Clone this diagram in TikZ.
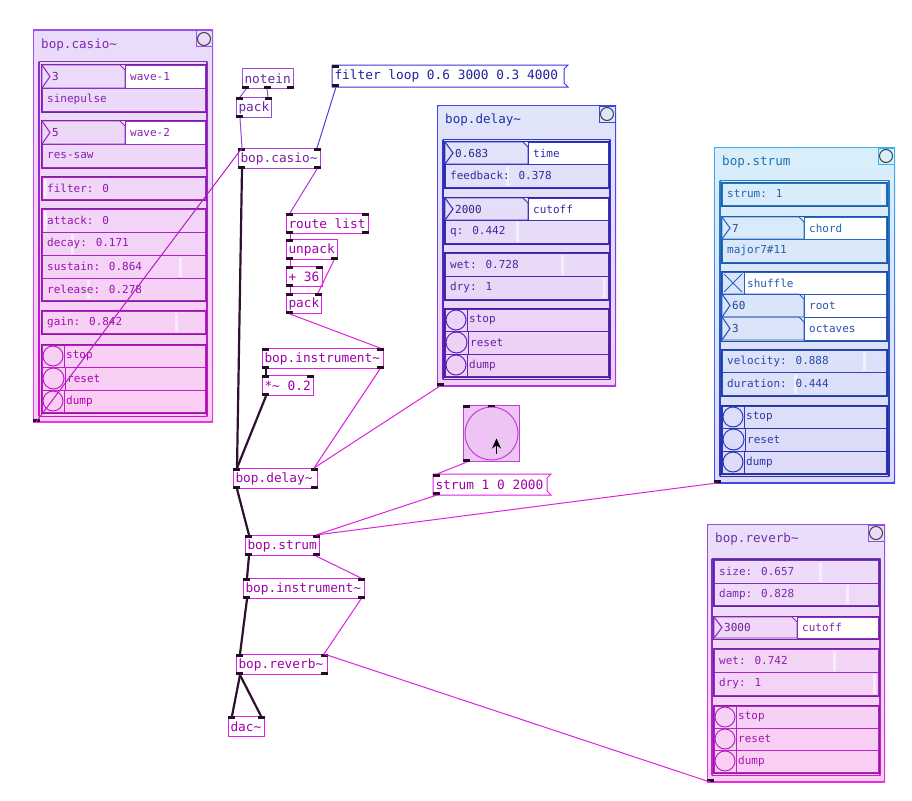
\documentclass[tikz,border=0pt]{standalone}
\usepackage{fontspec}
\newfontfamily\pdmono{DejaVu Sans Mono}
\usetikzlibrary{calc,arrows.meta}
\newcommand\objfont{\pdmono\fontsize{12.8}{14}\selectfont}
\newcommand\rowfont{\pdmono\fontsize{11}{13}\selectfont}
\newcommand\ttlfont{\pdmono\fontsize{12.6}{14}\selectfont}
\newcount\wid
\definecolor{opur}{HTML}{A048E0}\definecolor{tpur}{HTML}{6A28A8}
\definecolor{oblu}{HTML}{3838E0}\definecolor{tblu}{HTML}{2020A0}
\definecolor{ocas}{HTML}{B040E0}\definecolor{tcas}{HTML}{7A20B0}
\definecolor{omag}{HTML}{E020E8}\definecolor{tmag}{HTML}{A000A8}
\definecolor{obng}{HTML}{C040D8}\definecolor{fbng}{HTML}{EEC4F4}
\definecolor{iocol}{HTML}{201020}
\definecolor{c1}{HTML}{9848D8}\definecolor{cblu}{HTML}{5040E0}
\definecolor{cpur}{HTML}{B038E0}\definecolor{cmag}{HTML}{E020E0}
\definecolor{ccas}{HTML}{B818C8}
\definecolor{sigcol}{HTML}{301030}
\newcommand\rowcol[1]{\pgfmathtruncatemacro\pct{(\PB-#1)/(\PB-\PT)*100}\colorlet{rb}{bdtop!\pct!bdbot}\colorlet{rt}{ttop!\pct!tbot}}
\newcommand\grp[4]{\rowcol{#2}\draw[rb!80!black,line width=1pt] (#1,#2) rectangle (#3,#4);}
\newcommand\gframe[4]{%
 \shade[top color=bdtop,bottom color=bdbot] ({#1-0.5},#2) rectangle ({#1+0.5},#4);
 \shade[top color=bdtop,bottom color=bdbot] ({#3-0.5},#2) rectangle ({#3+0.5},#4);
 \fill[bdtop] (#1,{#2-0.5}) rectangle (#3,{#2+0.5});
 \fill[bdbot] (#1,{#4-0.5}) rectangle (#3,{#4+0.5});}
\newcommand\slrow[6]{\rowcol{#2}%
 \fill[white,opacity=.55] ({#1+2+#6*(#3-#1-7)},{#2+1.5}) rectangle ++(3,{#4-#2-3});
 \draw[rb,line width=.9pt] (#1,#2) rectangle (#3,#4);
 \global\advance\wid by 1
 \node[rowtxt,text=rt] (w\the\wid) at ({#1+5},{(#2+#4)/2}) {#5};}
\newcommand\txrow[5]{\rowcol{#2}%
 \draw[rb,line width=.9pt] (#1,#2) rectangle (#3,#4);
 \global\advance\wid by 1
 \node[rowtxt,text=rt] (w\the\wid) at ({#1+5},{(#2+#4)/2}) {#5};}
\newcommand\numrow[7]{\rowcol{#2}%
 \fill[white] (#3,#2) rectangle (#4,#5);
 \draw[rb,line width=.9pt] (#3,#2) rectangle (#4,#5);
 \draw[rb,line width=.9pt] (#1,#2) -- ({#3-5},#2) -- (#3,{#2+5}) -- (#3,#5) -- (#1,#5) -- cycle;
 \draw[rb,line width=1.1pt] (#1,#2) -- ({#1+8},{(#2+#5)/2}) -- (#1,#5);
 \global\advance\wid by 1
 \node[rowtxt,text=rt!85!black] (w\the\wid) at ({#1+10},{(#2+#5)/2}) {#6};
 \global\advance\wid by 1
 \node[rowtxt,text=rt] (w\the\wid) at ({#3+5},{(#2+#5)/2}) {#7};}
\newcommand\bngrow[5]{\rowcol{#2}%
 \draw[rb,line width=.9pt] (#1,#2) rectangle (#3,#4);
 \draw[rb,line width=.9pt] (#1,#2) rectangle ({#1+#4-#2},#4);
 \draw[rb,line width=1pt] ({#1+(#4-#2)/2},{(#2+#4)/2}) circle[radius={((#4-#2)/2-1)*1pt}];
 \global\advance\wid by 1
 \node[rowtxt,text=rt] (w\the\wid) at ({#1+#4-#2+2},{(#2+#4)/2}) {#5};}
\newcommand\tglrow[5]{\rowcol{#2}%
 \fill[white] ({#1+#4-#2},#2) rectangle (#3,#4);
 \draw[rb,line width=.9pt] (#1,#2) rectangle (#3,#4);
 \draw[rb,line width=.9pt] ({#1+#4-#2},#2) -- ({#1+#4-#2},#4);
 \draw[rb,line width=1pt] ({#1+2},{#2+2}) -- ({#1+#4-#2-2},{#4-2}) ({#1+2},{#4-2}) -- ({#1+#4-#2-2},{#2+2});
 \global\advance\wid by 1
 \node[rowtxt,text=rt] (w\the\wid) at ({#1+#4-#2+3},{(#2+#4)/2}) {#5};}
\newcommand\panel[6]{%
 \def\PT{#3}\def\PB{#5}%
 \shade[top color=btop,bottom color=bbot] (#2,#3) rectangle (#4,#5);
 \shade[top color=ftop,bottom color=fbot] ({#2+1.4},{#3+1.4}) rectangle ({#4-1.4},{#5-1.4});
 \node[ptitle,text=ttop] (#1title) at ({#2+8},{#3+15}) {#6};
 \draw[btop,line width=1pt] ({#4-17},{#3+1}) rectangle ({#4-1},{#3+17});
 \draw[black!75,line width=1pt] ({#4-9},{#3+9}) circle[radius=6.5pt];
 \fill[iocol] (#2,#5) rectangle ++(7,-3);
 \coordinate (#1out) at ({#2+3},#5);}
\newcommand\inl[1]{\fill[iocol] (#1.north west) rectangle ++(7,3);}
\newcommand\inr[1]{\fill[iocol] (#1.north east) rectangle ++(-7,3);}
\newcommand\outl[1]{\fill[iocol] (#1.south west) rectangle ++(7,-3);}
\newcommand\outr[1]{\fill[iocol] (#1.south east) rectangle ++(-7,-3);}
\begin{document}
\begin{tikzpicture}[x=1pt,y=-1pt,
 pdo/.style={draw, line width=1pt, anchor=north west, inner xsep=2pt, inner ysep=0pt, minimum height=20pt, align=flush left, font=\objfont},
 pdm/.style={pdo, draw=none},
 objpur/.style={draw=opur,text=tpur},
 objcas/.style={draw=ocas,text=tcas},
 objmag/.style={draw=omag,text=tmag},
 rowtxt/.style={anchor=west, inner sep=0pt, font=\rowfont},
 ptitle/.style={anchor=west, inner sep=0pt, font=\ttlfont},
 ctl/.style={line width=1pt},
 sig/.style={line width=2.2pt, draw=sigcol},
]
\useasboundingbox (0,0) rectangle (912,800);
\fill[white] (0,0) rectangle (912,800);

% ---------- casio panel
\definecolor{btop}{HTML}{A050E8}\definecolor{bbot}{HTML}{E838E4}
\definecolor{ftop}{HTML}{E9DCFA}\definecolor{fbot}{HTML}{FBCDF3}
\definecolor{bdtop}{HTML}{8A30C8}\definecolor{bdbot}{HTML}{C818C8}
\definecolor{ttop}{HTML}{7A2AB0}\definecolor{tbot}{HTML}{B000B0}
\panel{cas}{33}{30}{213}{422}{bop.casio\textasciitilde}
\gframe{39}{62}{207}{416}
\grp{41}{64}{206}{112}
\numrow{42}{65}{125}{205}{88}{3}{wave-1}
\txrow{42}{88}{205}{111}{sinepulse}
\grp{41}{120}{206}{168}
\numrow{42}{121}{125}{205}{144}{5}{wave-2}
\txrow{42}{144}{205}{167}{res-saw}
\grp{41}{176}{206}{200}
\slrow{42}{177}{205}{199}{filter: 0}{0}
\grp{41}{208}{206}{301}
\slrow{42}{209}{205}{232}{attack: 0}{0}
\slrow{42}{232}{205}{255}{decay: 0.171}{0.171}
\slrow{42}{255}{205}{278}{sustain: 0.864}{0.864}
\slrow{42}{278}{205}{300}{release: 0.278}{0.278}
\grp{41}{310}{206}{334}
\slrow{42}{311}{205}{333}{gain: 0.842}{0.842}
\grp{41}{344}{206}{413}
\bngrow{42}{345}{205}{367}{stop}
\bngrow{42}{367}{205}{390}{reset}
\bngrow{42}{390}{205}{412}{dump}

% ---------- delay panel
\definecolor{btop}{HTML}{3848E0}\definecolor{bbot}{HTML}{A838E0}
\definecolor{ftop}{HTML}{DFE6FA}\definecolor{fbot}{HTML}{F0CFF5}
\definecolor{bdtop}{HTML}{2838C8}\definecolor{bdbot}{HTML}{6820B8}
\definecolor{ttop}{HTML}{2030A8}\definecolor{tbot}{HTML}{7020A0}
\panel{del}{437}{105}{616}{386}{bop.delay\textasciitilde}
\gframe{443}{139}{610}{379}
\grp{444}{141}{609}{188}
\numrow{445}{142}{528}{608}{164}{0.683}{time}
\slrow{445}{164}{608}{187}{feedback: 0.378}{0.378}
\grp{444}{197}{609}{244}
\numrow{445}{198}{528}{608}{220}{2000}{cutoff}
\slrow{445}{220}{608}{243}{q: 0.442}{0.442}
\grp{444}{252}{609}{300}
\slrow{445}{253}{608}{276}{wet: 0.728}{0.728}
\slrow{445}{276}{608}{299}{dry: 1}{1}
\grp{444}{308}{609}{377}
\bngrow{445}{309}{608}{331}{stop}
\bngrow{445}{331}{608}{354}{reset}
\bngrow{445}{354}{608}{376}{dump}

% ---------- strum panel
\definecolor{btop}{HTML}{40B0EC}\definecolor{bbot}{HTML}{4848E0}
\definecolor{ftop}{HTML}{D8EFFB}\definecolor{fbot}{HTML}{DEDAF8}
\definecolor{bdtop}{HTML}{2480C8}\definecolor{bdbot}{HTML}{2C2CB8}
\definecolor{ttop}{HTML}{2070B0}\definecolor{tbot}{HTML}{3030A8}
\panel{str}{714}{147}{895}{483}{bop.strum}
\gframe{720}{180}{889}{476}
\grp{721}{182}{887}{206}
\slrow{722}{183}{886}{205}{strum: 1}{1}
\grp{721}{216}{887}{263}
\numrow{722}{217}{804}{886}{239}{7}{chord}
\txrow{722}{239}{886}{262}{major7\#11}
\grp{721}{271}{887}{341}
\tglrow{722}{272}{886}{294}{shuffle}
\numrow{722}{294}{804}{886}{317}{60}{root}
\numrow{722}{317}{804}{886}{340}{3}{octaves}
\grp{721}{349}{887}{396}
\slrow{722}{350}{886}{372}{velocity: 0.888}{0.888}
\slrow{722}{372}{886}{395}{duration: 0.444}{0.444}
\grp{721}{405}{887}{474}
\bngrow{722}{406}{886}{428}{stop}
\bngrow{722}{428}{886}{451}{reset}
\bngrow{722}{451}{886}{473}{dump}

% ---------- reverb panel
\definecolor{btop}{HTML}{9050E0}\definecolor{bbot}{HTML}{E830E0}
\definecolor{ftop}{HTML}{EADEFA}\definecolor{fbot}{HTML}{FBCDF3}
\definecolor{bdtop}{HTML}{6A34C0}\definecolor{bdbot}{HTML}{C820C8}
\definecolor{ttop}{HTML}{6A30A8}\definecolor{tbot}{HTML}{B010B0}
\panel{rev}{707}{524}{885}{782}{bop.reverb\textasciitilde}
\gframe{712}{558}{880}{775}
\grp{713}{559}{879}{606}
\slrow{714}{560}{878}{583}{size: 0.657}{0.657}
\slrow{714}{583}{878}{605}{damp: 0.828}{0.828}
\grp{713}{616}{879}{639}
\numrow{714}{617}{797}{878}{638}{3000}{cutoff}
\grp{713}{648}{879}{696}
\slrow{714}{649}{878}{672}{wet: 0.742}{0.742}
\slrow{714}{672}{878}{695}{dry: 1}{1}
\grp{713}{705}{879}{773}
\bngrow{714}{706}{878}{728}{stop}
\bngrow{714}{728}{878}{750}{reset}
\bngrow{714}{750}{878}{772}{dump}

% ---------- objects
\node[pdo,objpur,text width=47pt] (notein) at (242,68) {notein};
\node[pdo,objpur,text width=31pt] (pack1) at (236,97) {pack};
\node[pdm,text=tblu,text width=231pt,minimum height=21pt] (filt) at (332,65) {filter loop 0.6 3000 0.3 4000};
\draw[oblu,line width=1pt] (filt.north east) -- (filt.north west) -- (filt.south west) -- (filt.south east) -- ++(-4,-4) -- ($(filt.north east)+(-4,4)$) -- cycle;
\node[pdo,objcas,text width=78pt] (casio) at (238,148) {bop.casio\textasciitilde};
\node[pdo,objmag,text width=78pt] (route) at (286,213) {route list};
\node[pdo,objmag,text width=47pt] (unpack) at (286,239) {unpack};
\node[pdo,objmag,text width=32pt] (plus) at (286,266) {+ 36};
\node[pdo,objmag,text width=31pt] (pack2) at (286,293) {pack};
\node[pdo,objmag,text width=117pt] (inst1) at (262,348) {bop.instrument\textasciitilde};
\node[pdo,objmag,text width=47pt] (mul) at (262,375) {*\textasciitilde{} 0.2};
\node[pdo,objmag,text width=80pt] (delayo) at (233,468) {bop.delay\textasciitilde};
\node[draw=obng,fill=fbng,line width=1pt,minimum width=56pt,minimum height=56pt,inner sep=0pt,anchor=north west] (bng) at (463,405) {};
\node[draw=obng,circle,line width=1pt,minimum size=53pt,inner sep=0pt] (bngc) at (bng.center) {};
\draw[-{Stealth[length=10pt,width=9pt]},line width=1.6pt,black] ($(bng.center)+(5,20)$) -- ($(bng.center)+(5,5)$);
\node[pdm,text=tmag,text width=113pt] (strmsg) at (433,474) {strum 1 0 2000};
\draw[omag,line width=1pt] (strmsg.north east) -- (strmsg.north west) -- (strmsg.south west) -- (strmsg.south east) -- ++(-4,-4) -- ($(strmsg.north east)+(-4,4)$) -- cycle;
\node[pdo,objmag,text width=70pt] (strumo) at (245,535) {bop.strum};
\node[pdo,objmag,text width=117pt] (inst2) at (243,578) {bop.instrument\textasciitilde};
\node[pdo,objmag,text width=87pt] (reverbo) at (236,654) {bop.reverb\textasciitilde};
\node[pdo,objmag,text width=32pt] (dac) at (228,716) {dac\textasciitilde};

% ---------- inlets / outlets
\outl{notein}\outr{notein}\fill[iocol] ($(notein.south west)+(22,0)$) rectangle ++(7,-3);
\inl{pack1}\inr{pack1}\outl{pack1}
\inl{filt}\outl{filt}
\inl{casio}\inr{casio}\outl{casio}\outr{casio}
\inl{route}\inr{route}\outl{route}\outr{route}
\inl{unpack}\outl{unpack}\outr{unpack}
\inl{plus}\inr{plus}\outl{plus}
\inl{pack2}\inr{pack2}\outl{pack2}
\inl{inst1}\inr{inst1}\outl{inst1}\outr{inst1}
\inl{mul}\inr{mul}\outl{mul}
\inl{delayo}\inr{delayo}\outl{delayo}\outr{delayo}
\inl{bng}\outl{bng}\fill[iocol] ($(bng.north)+(-3.5,0)$) rectangle ++(7,2);
\inl{strmsg}\outl{strmsg}
\inl{strumo}\inr{strumo}\outl{strumo}\outr{strumo}
\inl{inst2}\inr{inst2}\outl{inst2}\outr{inst2}
\inl{reverbo}\inr{reverbo}\outl{reverbo}\outr{reverbo}
\inl{dac}\inr{dac}

% ---------- connections
\draw[ctl,c1] ($(notein.south west)+(4,0)$) -- ($(pack1.north west)+(4,0)$);
\draw[ctl,c1] ($(notein.south west)+(25,0)$) -- ($(pack1.north east)+(-4,0)$);
\draw[ctl,c1] ($(pack1.south west)+(4,0)$) -- ($(casio.north west)+(4,0)$);
\draw[ctl,cblu] ($(filt.south west)+(4,0)$) -- ($(casio.north east)+(-4,0)$);
\draw[ctl,cpur] ($(casio.south east)+(-4,0)$) -- ($(route.north west)+(4,0)$);
\draw[ctl,ccas] (casout) -- ($(casio.north west)+(4,0)$);
\draw[ctl,cmag] ($(route.south west)+(4,0)$) -- ($(unpack.north west)+(4,0)$);
\draw[ctl,cmag] ($(unpack.south west)+(4,0)$) -- ($(plus.north west)+(4,0)$);
\draw[ctl,cmag] ($(unpack.south east)+(-4,0)$) -- ($(pack2.north east)+(-4,0)$);
\draw[ctl,cmag] ($(plus.south west)+(4,0)$) -- ($(pack2.north west)+(4,0)$);
\draw[ctl,cmag] ($(pack2.south west)+(4,0)$) -- ($(inst1.north east)+(-4,0)$);
\draw[sig] ($(inst1.south west)+(4,0)$) -- ($(mul.north west)+(4,0)$);
\draw[sig] ($(mul.south west)+(4,0)$) -- ($(delayo.north west)+(4,0)$);
\draw[sig] ($(casio.south west)+(4,0)$) -- ($(delayo.north west)+(4,0)$);
\draw[ctl,cmag] ($(inst1.south east)+(-4,0)$) -- ($(delayo.north east)+(-4,0)$);
\draw[ctl,cmag] (delout) -- ($(delayo.north east)+(-4,0)$);
\draw[sig] ($(delayo.south west)+(4,0)$) -- ($(strumo.north west)+(4,0)$);
\draw[ctl,cmag] ($(bng.south west)+(4,0)$) -- ($(strmsg.north west)+(4,0)$);
\draw[ctl,cmag] ($(strmsg.south west)+(4,0)$) -- ($(strumo.north east)+(-4,0)$);
\draw[ctl,cmag] (strout) -- ($(strumo.north east)+(-4,0)$);
\draw[sig] ($(strumo.south west)+(4,0)$) -- ($(inst2.north west)+(4,0)$);
\draw[ctl,cmag] ($(strumo.south east)+(-4,0)$) -- ($(inst2.north east)+(-4,0)$);
\draw[sig] ($(inst2.south west)+(4,0)$) -- ($(reverbo.north west)+(4,0)$);
\draw[ctl,cmag] ($(inst2.south east)+(-4,0)$) -- ($(reverbo.north east)+(-4,0)$);
\draw[ctl,cmag] (revout) -- ($(reverbo.north east)+(-4,0)$);
\draw[sig] ($(reverbo.south west)+(4,0)$) -- ($(dac.north west)+(4,0)$);
\draw[sig] ($(reverbo.south west)+(4,0)$) -- ($(dac.north east)+(-4,0)$);
\end{tikzpicture}
\end{document}
